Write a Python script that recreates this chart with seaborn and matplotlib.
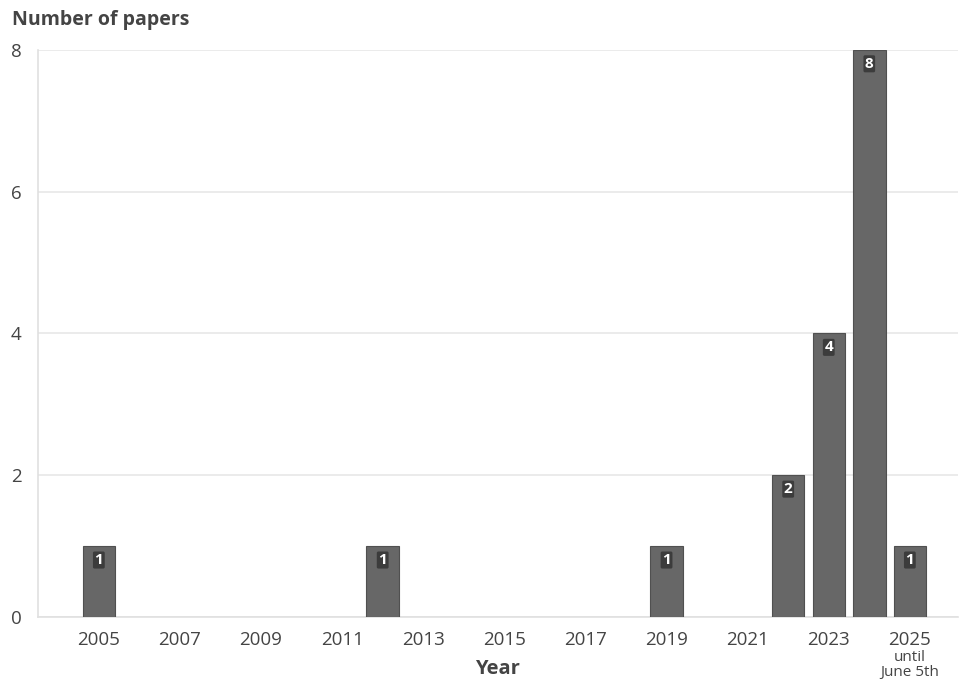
import matplotlib
matplotlib.use("Agg")
import matplotlib.pyplot as plt
import seaborn as sns
import pandas as pd

years = [2005, 2012, 2019, 2022, 2023, 2024, 2025]
papers = [1, 1, 1, 2, 4, 8, 1]
labeled_years = [2005, 2007, 2009, 2011, 2013, 2015, 2017, 2019, 2021, 2023, 2025]
minor_years = [2006, 2008, 2010, 2012, 2014, 2016, 2018, 2020, 2022, 2024]
y_ticks = [0, 2, 4, 6, 8]

sns.set_theme(style="white")
plt.rcParams['font.family'] = ['Open Sans', 'DejaVu Sans']

df = pd.DataFrame({"Year": years, "Papers": papers})

fig = plt.figure(figsize=(9.6, 6.8), dpi=100)
ax = fig.add_axes([0.0396, 0.0926, 0.958, 0.834])

sns.barplot(data=df, x="Year", y="Papers", native_scale=True, width=0.8,
            color="#676767", saturation=1, edgecolor="#505050", linewidth=0.8,
            ax=ax, zorder=3)

ax.set_xlim(2003.5, 2026.18)
ax.set_ylim(0, 8)

ax.set_yticks(y_ticks)
ax.set_yticklabels([str(v) for v in y_ticks])
ax.grid(axis="y", color="#e8e8e8", linewidth=1.2, zorder=0)
ax.grid(axis="x", visible=False)

ax.set_xticks(labeled_years)
ax.set_xticklabels([str(y) for y in labeled_years])
ax.set_xticks(minor_years, minor=True)

ax.tick_params(axis="x", which="both", length=6, color="#dddddd", width=1,
               labelsize=13.5, labelcolor="#444444", pad=4)
ax.tick_params(axis="y", length=7, color="#dddddd", width=1,
               labelsize=13.5, labelcolor="#444444", pad=5)

for s in ["top", "right"]:
    ax.spines[s].set_visible(False)
ax.spines["left"].set_color("#e0e0e0")
ax.spines["left"].set_linewidth(1.2)
ax.spines["bottom"].set_color("#e0e0e0")
ax.spines["bottom"].set_linewidth(1.2)

ax.set_xlabel("Year", fontsize=14.5, fontweight="bold", color="#444444", labelpad=7)
ax.set_ylabel("")

ax.text(2025, -0.47, "until\nJune 5th", ha="center", va="top", fontsize=11,
        color="#444444", linespacing=1.0, transform=ax.transData, clip_on=False)

fig.text(0.0125, 0.97, "Number of papers", ha="left", va="center", fontsize=14,
         fontweight="bold", color="#444444")

for yr, v in zip(years, papers):
    ax.annotate(str(v), xy=(yr, v), xytext=(0, -10), textcoords="offset points",
                ha="center", va="center", fontsize=11, fontweight="bold",
                color="white", zorder=5,
                bbox=dict(boxstyle="round,pad=0.1", fc="#3c3c3c", ec="none"))

fig.savefig("out.png", dpi=100)
